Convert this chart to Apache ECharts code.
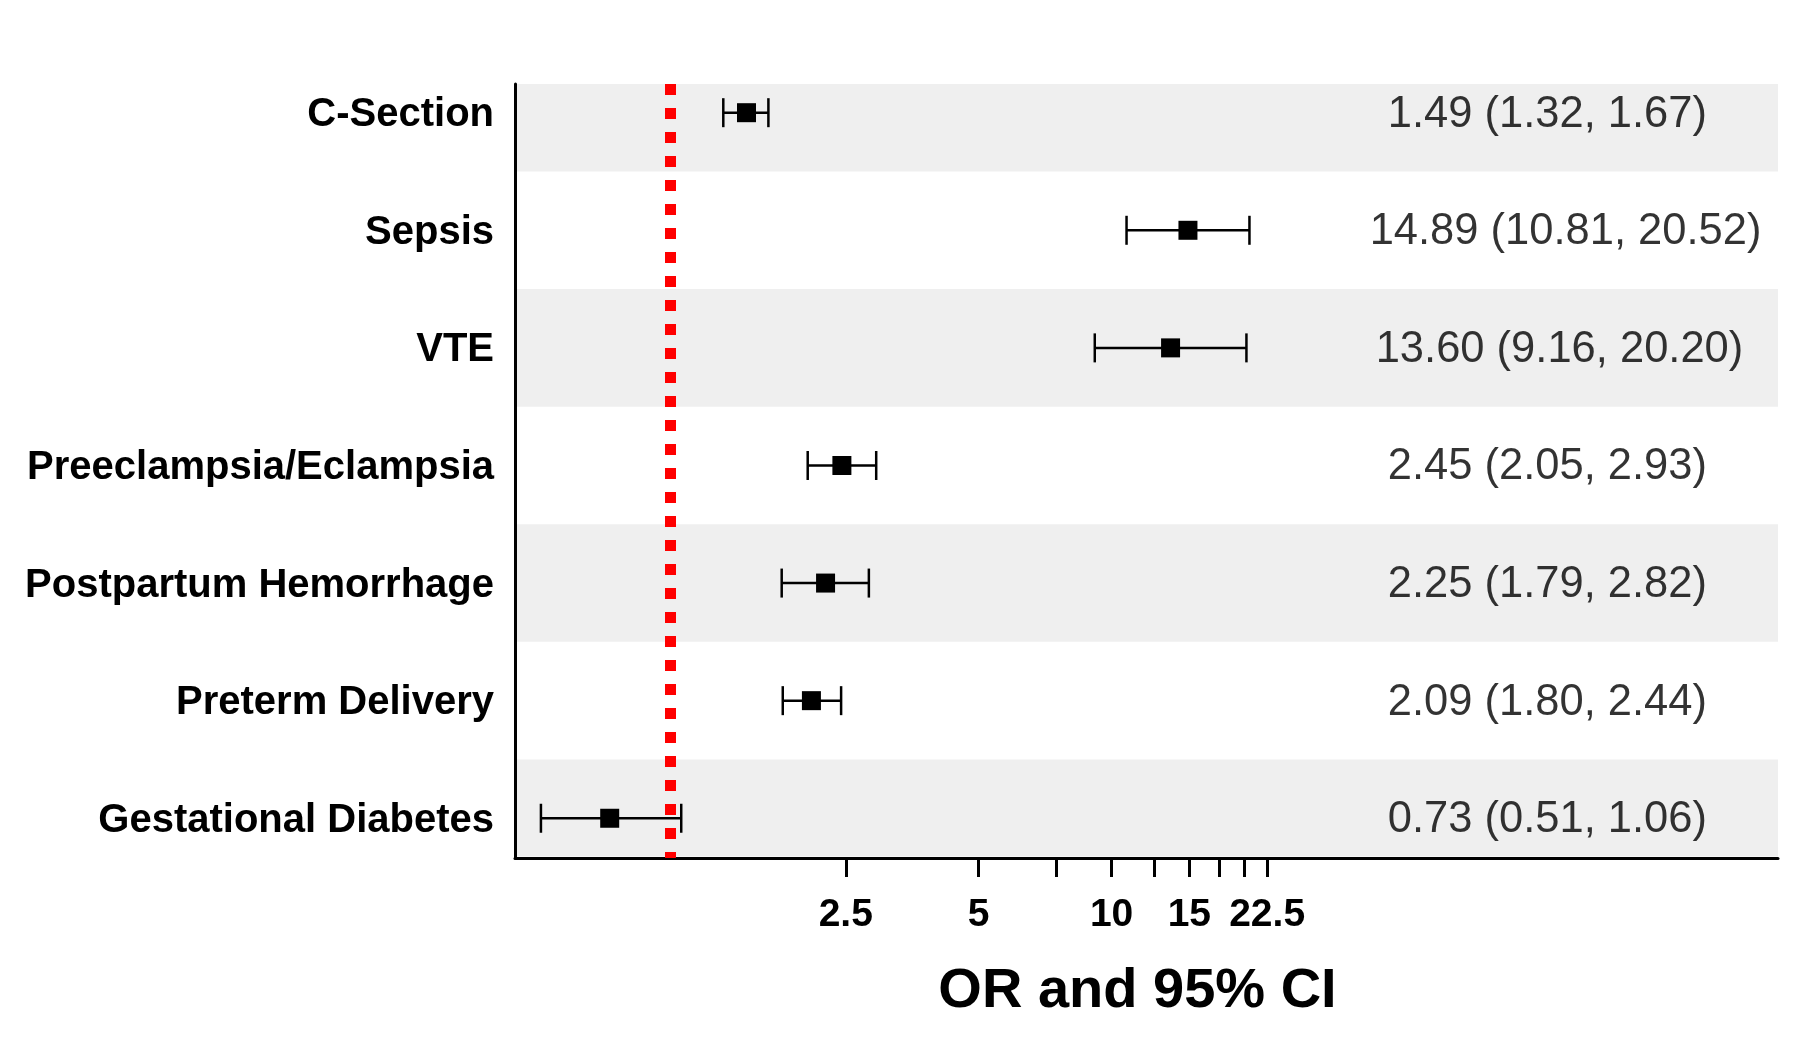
<!DOCTYPE html>
<html>
<head>
<meta charset="utf-8">
<script src="https://cdn.jsdelivr.net/npm/echarts@6/dist/echarts.min.js"></script>
<style>html,body{margin:0;padding:0;background:#fff}#chart{width:1800px;height:1047px}</style>
</head>
<body>
<div id="chart"></div>
<script>
// ---- data ----
const categories = ['C-Section', 'Sepsis', 'VTE', 'Preeclampsia/Eclampsia', 'Postpartum Hemorrhage', 'Preterm Delivery', 'Gestational Diabetes'];
const oddsRatio = [1.49, 14.89, 13.60, 2.45, 2.25, 2.09, 0.73];
const ciLower   = [1.32, 10.81, 9.16, 2.05, 1.79, 1.80, 0.51];
const ciUpper   = [1.67, 20.52, 20.20, 2.93, 2.82, 2.44, 1.06];
const tickValues  = [2.5, 5, 7.5, 10, 12.5, 15, 17.5, 20, 22.5];
const tickLabels  = [2.5, 5, 10, 15, 22.5];
const referenceOR = 1;

// ---- layout ----
const FONT = "'Liberation Sans', Arial, Helvetica, sans-serif";
const X_MIN = 0.4455, X_MAX = 323;
const Y_MIN = -0.244, Y_MAX = 6.338;
const TEXT_X = 64;          // anchor of the estimate text column
const TEXT_HJUST = 0.25;    // horizontal justification of the text about its anchor
const TEXT_SIZE = 43.5;

const rows = categories.map((c, i) => i);
const bandRows = rows.filter(i => i % 2 === 0);
const ciText = rows.map(i => oddsRatio[i].toFixed(2) + ' (' + ciLower[i].toFixed(2) + ', ' + ciUpper[i].toFixed(2) + ')');

const measureCtx = document.createElement('canvas').getContext('2d');
measureCtx.font = TEXT_SIZE + 'px ' + FONT;
const textWidth = s => measureCtx.measureText(s).width;

const chart = echarts.init(document.getElementById('chart'), null, {renderer: 'canvas'});

const option = {
  animation: false,
  backgroundColor: '#ffffff',
  grid: {left: 515, right: 22, top: 84, bottom: 189, containLabel: false},
  xAxis: {
    type: 'log',
    logBase: 10,
    min: X_MIN,
    max: X_MAX,
    name: 'OR and 95% CI',
    nameLocation: 'middle',
    nameGap: 106,
    nameTextStyle: {fontFamily: FONT, fontWeight: 'bold', fontSize: 56, color: '#000', padding: [0, 18, 0, 0]},
    axisLine: {show: true, onZero: false, lineStyle: {color: '#000', width: 3}},
    axisTick: {show: true, length: 19, lineStyle: {color: '#000', width: 3}, customValues: tickValues},
    axisLabel: {show: true, customValues: tickLabels, margin: 38, fontFamily: FONT, fontWeight: 'bold', fontSize: 39, color: '#000',
      formatter: v => String(Math.round(v * 10) / 10)},
    splitLine: {show: false},
    minorTick: {show: false}
  },
  yAxis: {
    type: 'value',
    inverse: true,
    min: Y_MIN,
    max: Y_MAX,
    axisLine: {show: true, onZero: false, lineStyle: {color: '#000', width: 3}},
    axisTick: {show: false, customValues: rows},
    axisLabel: {show: true, customValues: rows, margin: 21, fontFamily: FONT, fontWeight: 'bold', fontSize: 40, color: '#000',
      formatter: v => '{c|' + (categories[Math.round(v)] || '') + '}',
      rich: {c: {fontFamily: FONT, fontWeight: 'bold', fontSize: 40, color: '#000', padding: [5, 0, 0, 0]}}},
    splitLine: {show: false}
  },
  series: [
    {
      type: 'custom',
      name: 'bands',
      z: 0,
      silent: true,
      data: bandRows.map(i => [referenceOR, i]),
      encode: {x: 0, y: 1},
      renderItem: function (params, api) {
        const i = api.value(1);
        const cs = params.coordSys;
        const top = api.coord([referenceOR, i - 0.5])[1];
        const bot = api.coord([referenceOR, i + 0.5])[1];
        const rect = echarts.graphic.clipRectByRect(
          {x: cs.x + 1.5, y: top, width: cs.width - 1.5, height: bot - top},
          {x: cs.x, y: cs.y, width: cs.width, height: cs.height - 1.5}
        );
        return rect && {type: 'rect', shape: rect, style: {fill: '#efefef'}};
      },
      markLine: {
        silent: true,
        symbol: 'none',
        label: {show: false},
        z: 2,
        lineStyle: {color: '#ff0000', width: 11, type: [11, 13], opacity: 1},
        data: [{xAxis: referenceOR}]
      }
    },
    {
      type: 'custom',
      name: 'ci',
      z: 3,
      data: rows.map(i => [ciLower[i], ciUpper[i], i]),
      encode: {x: [0, 1], y: 2},
      renderItem: function (params, api) {
        const y = api.value(2);
        const p1 = api.coord([api.value(0), y]);
        const p2 = api.coord([api.value(1), y]);
        const h = 14.5;
        const st = {stroke: '#000', lineWidth: 2.5};
        return {
          type: 'group',
          children: [
            {type: 'line', shape: {x1: p1[0], y1: p1[1], x2: p2[0], y2: p2[1]}, style: st},
            {type: 'line', shape: {x1: p1[0], y1: p1[1] - h, x2: p1[0], y2: p1[1] + h}, style: st},
            {type: 'line', shape: {x1: p2[0], y1: p2[1] - h, x2: p2[0], y2: p2[1] + h}, style: st}
          ]
        };
      }
    },
    {
      type: 'scatter',
      name: 'OR',
      z: 4,
      symbol: 'rect',
      symbolSize: 19,
      itemStyle: {color: '#000', opacity: 1},
      data: rows.map(i => [oddsRatio[i], i])
    },
    {
      type: 'scatter',
      name: 'text',
      z: 5,
      symbolSize: 0,
      silent: true,
      data: rows.map(i => ({
        value: [TEXT_X, i],
        label: {offset: [(0.5 - TEXT_HJUST) * textWidth(ciText[i]), 2]}
      })),
      label: {
        show: true,
        position: 'inside',
        fontFamily: FONT,
        fontSize: TEXT_SIZE,
        color: '#000',
        formatter: p => ciText[p.dataIndex]
      }
    }
  ]
};
chart.setOption(option);
</script>
</body>
</html>
